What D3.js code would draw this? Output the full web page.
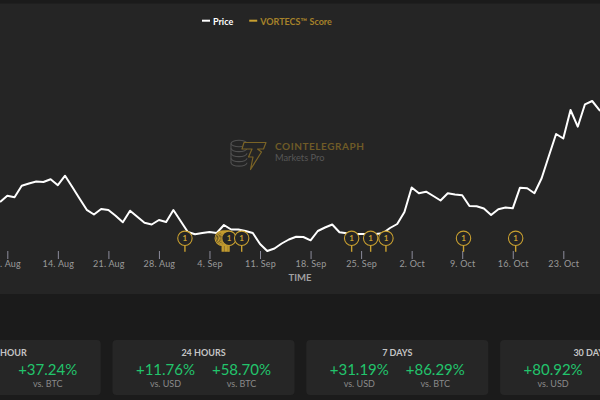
<!DOCTYPE html>
<html><head><meta charset="utf-8">
<script src="https://cdn.jsdelivr.net/npm/d3@7/dist/d3.min.js"></script>
<style>
html,body{margin:0;padding:0;background:#1b1b1b;}
svg{display:block;font-family:Lato,"Open Sans",sans-serif;}
</style></head><body>
<svg id="c" width="600" height="400"></svg>
<script>
// ---------- data ----------
const startDay = "2021-08-06"; // first daily price point
const priceValues = [0.98,1.043,1.027,1.143,1.165,1.185,1.18,1.208,1.148,1.243,
  1.13,1.015,0.902,0.855,0.91,0.90,0.842,0.777,0.893,0.833,
  0.773,0.755,0.80,0.78,0.90,0.79,0.68,0.657,0.67,0.68,
  0.67,0.75,0.705,0.705,0.69,0.67,0.56,0.49,0.515,0.565,
  0.605,0.632,0.63,0.597,0.69,0.725,0.755,0.677,0.667,0.66,
  0.66,0.66,0.66,0.667,0.72,0.76,0.88,1.125,1.067,1.083,
  1.04,0.995,1.067,1.056,1.048,0.94,0.938,0.915,0.85,0.907,
  0.925,0.917,1.123,1.117,1.067,1.217,1.44,1.66,1.615,1.90,
  1.733,1.957,1.99,1.90,1.85];
const vortecsDates = ["2021-08-31T14:24Z","2021-09-05T18:30Z","2021-09-05T23:30Z","2021-09-06T04:30Z",
  "2021-09-06T09:20Z","2021-09-06T13:30Z","2021-09-06T16:50Z","2021-09-08T11:00Z",
  "2021-09-23T16:30Z","2021-09-26T07:40Z","2021-09-28T10:30Z","2021-10-09T04:20Z","2021-10-16T09:40Z"];
const vortecsScores = [1,1,1,1,1,1,1,1,1,1,1,1,1];
const tickDates = ["2021-08-07","2021-08-14","2021-08-21","2021-08-28","2021-09-04","2021-09-11",
  "2021-09-18","2021-09-25","2021-10-02","2021-10-09","2021-10-16","2021-10-23"];
const tickLabels = ["7. Aug","14. Aug","21. Aug","28. Aug","4. Sep","11. Sep",
  "18. Sep","25. Sep","2. Oct","9. Oct","16. Oct","23. Oct"];
const legendLabels = ["Price","VORTECS™ Score"];
const panelTitles = ["1 HOUR","24 HOURS","7 DAYS","30 DAYS"];
const usdChanges = [null,"+11.76%","+31.19%","+80.92%"];
const btcChanges = ["+37.24%","+58.70%","+86.29%",null];

// ---------- setup ----------
const svg = d3.select("#c");
const W = 600;
const gold = "#c9a030";
svg.append("rect").attr("x",0).attr("y",0).attr("width",W).attr("height",400).attr("fill","#1b1b1b");
svg.append("rect").attr("x",0).attr("y",3.5).attr("width",W).attr("height",290.5).attr("fill","#252525");

const t0 = d3.isoParse(startDay+"T00:00:00Z");
const priceData = priceValues.map((v,i)=>({date:d3.utcDay.offset(t0,i), v}));

const x = d3.scaleUtc()
  .domain([d3.isoParse("2021-08-07T00:00:00Z"), d3.isoParse("2021-10-23T00:00:00Z")])
  .range([7.3, 563.3]);
const y = d3.scaleLinear().domain([0,3]).range([300,0]);

// ---------- watermark ----------
const wm = svg.append("g");
const cs = wm.append("g").attr("fill","none").attr("stroke","#505050").attr("stroke-width",1.1);
cs.append("ellipse").attr("cx",239).attr("cy",143.5).attr("rx",8).attr("ry",3.3);
[148.5,153.5,158.5,163].forEach(cy=>{
  cs.append("path").attr("d",`M231,${cy-0.2} A8,3.3 0 0 0 247,${cy-0.2}`);
});
cs.append("line").attr("x1",231).attr("y1",143.5).attr("x2",231).attr("y2",163);
wm.append("path")
  .attr("d","M244,142.5 L266,142.5 L263.5,149 L257.5,149 L261.5,152 L250.5,169.5 L253,157 L248.5,157 L252,149 L242,149 Z")
  .attr("fill","#252525").attr("stroke","#7a6326").attr("stroke-width",1.2).attr("stroke-linejoin","round");
wm.append("text").attr("x",275).attr("y",149.5).attr("font-size",10).attr("font-weight",700)
  .attr("letter-spacing",0.55).attr("fill","#6f5b27").text("COINTELEGRAPH");
wm.append("text").attr("x",275).attr("y",161).attr("font-size",9.3)
  .attr("fill","#575757").text("Markets Pro");

// ---------- axis ----------
const ax = svg.append("g").attr("transform","translate(0,251)")
  .call(d3.axisBottom(x)
    .tickValues(tickDates.map(d=>d3.isoParse(d+"T00:00:00Z")))
    .tickFormat((d,i)=>tickLabels[i])
    .tickSize(8).tickPadding(1.5));
ax.select(".domain").remove();
ax.selectAll(".tick line").attr("stroke","#8c8c9c").attr("stroke-width",1);
ax.selectAll(".tick text").attr("fill","#9a9a9a").attr("font-size",9)
  .attr("font-family","Lato, sans-serif").attr("letter-spacing",0.2);
svg.append("text").attr("x",300).attr("y",281).attr("text-anchor","middle")
  .attr("font-size",9.5).attr("font-weight",700).attr("fill","#a0a0a0").text("TIME");

// ---------- price line ----------
svg.append("path").datum(priceData)
  .attr("fill","none").attr("stroke","#ffffff").attr("stroke-width",2)
  .attr("stroke-linejoin","round")
  .attr("d", d3.line().x(d=>x(d.date)).y(d=>y(d.v)));

// ---------- vortecs flags ----------
const flagData = vortecsDates.map((d,i)=>({date:d3.isoParse(d), s:vortecsScores[i]}));
flagData.forEach((d,i)=>{
  const nxt = flagData[i+1];
  // a flag whose face is covered by the next flag drawn on top shows no label
  d.covered = !!nxt && (x(nxt.date) - x(d.date)) < 8;
});
const flags = svg.append("g").selectAll("g")
  .data(flagData)
  .join("g").attr("transform",d=>`translate(${x(d.date)},238.3)`);
flags.append("line").attr("x1",0).attr("x2",0).attr("y1",7).attr("y2",13.5)
  .attr("stroke",gold).attr("stroke-width",1.4);
flags.append("circle").attr("r",7.2).attr("fill","#252525").attr("stroke",gold).attr("stroke-width",1.1);
flags.filter(d=>!d.covered).append("text").attr("text-anchor","middle").attr("y",3).attr("font-size",8)
  .attr("font-weight",700).attr("fill",gold).text(d=>d.s);

// ---------- legend ----------
const leg = svg.append("g");
const legColors = ["#ffffff", gold];
const legText = ["#ffffff", "#a5822a"];
let lx = 202;
legendLabels.forEach((lab,i)=>{
  leg.append("line").attr("x1",lx).attr("x2",lx+8).attr("y1",20.7).attr("y2",20.7)
    .attr("stroke",legColors[i]).attr("stroke-width",2);
  const t = leg.append("text").attr("x",lx+11).attr("y",25).attr("font-size",9)
    .attr("font-weight",700).attr("fill",legText[i]).text(lab);
  lx = lx + 11 + t.node().getComputedTextLength() + 16;
});

// ---------- panels ----------
const px0 = -81.3, pw = 182, pstep = 193.8;
panelTitles.forEach((title,i)=>{
  const left = px0 + i*pstep, c = left + pw/2;
  const g = svg.append("g");
  g.append("rect").attr("x",left).attr("y",340).attr("width",pw).attr("height",55)
    .attr("rx",4).attr("fill","#262626");
  g.append("text").attr("x",c).attr("y",356).attr("text-anchor","middle")
    .attr("font-size",9).attr("font-weight",700).attr("fill","#c4c4c4").text(title);
  [[usdChanges[i],"vs. USD",-38],[btcChanges[i],"vs. BTC",38]].forEach(([val,lab,off])=>{
    if(val===null) return;
    g.append("text").attr("x",c+off).attr("y",375).attr("text-anchor","middle")
      .attr("font-size",15).attr("fill","#22c46c").text(val);
    g.append("text").attr("x",c+off).attr("y",387.3).attr("text-anchor","middle")
      .attr("font-size",9).attr("fill","#8a8a8a").text(lab);
  });
});
</script>
</body></html>
